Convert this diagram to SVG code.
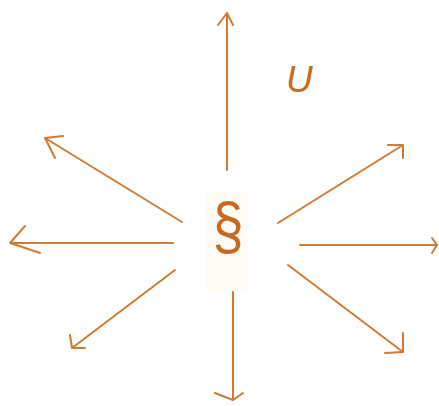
<svg xmlns="http://www.w3.org/2000/svg" width="439" height="406" viewBox="0 0 439 406">
<style>
.a{stroke:#D07B35;stroke-width:2;fill:none;stroke-linecap:round;stroke-linejoin:round}
.t{fill:#C86A22;font-family:"Liberation Sans",Arial,sans-serif}
</style>
<rect width="439" height="406" fill="#fff"/>
<g id="center">
<rect x="207" y="192" width="41" height="100" fill="#fefaf6"/>
<text class="t" transform="translate(228,248) scale(1,1.17)" font-size="56" text-anchor="middle">§</text>
</g>
<g id="label-u">
<text class="t" x="286" y="92" font-size="37" font-style="italic">U</text>
</g>
<g id="connectors">
<path class="a" d="M227,170 L227,13 M218,25 L227,13 L233,25"/>
<path class="a" d="M233,292 L233,400 M215,393 L233,400 L243,393"/>
<path class="a" d="M173,243 L10,243 M25,226 L10,243 L40,253"/>
<path class="a" d="M300,245 L437,245 M432,238 L437,245 L432,253"/>
<path class="a" d="M182,222 L45,138 M63,136 L45,138 L55,158"/>
<path class="a" d="M278,223 L403,145 M388,145 L403,145 L403,158"/>
<path class="a" d="M175,270 L72,348 M70,335 L72,348 L85,348"/>
<path class="a" d="M288,265 L403,352 M403,333 L403,352 L385,353"/>
</g>
</svg>
